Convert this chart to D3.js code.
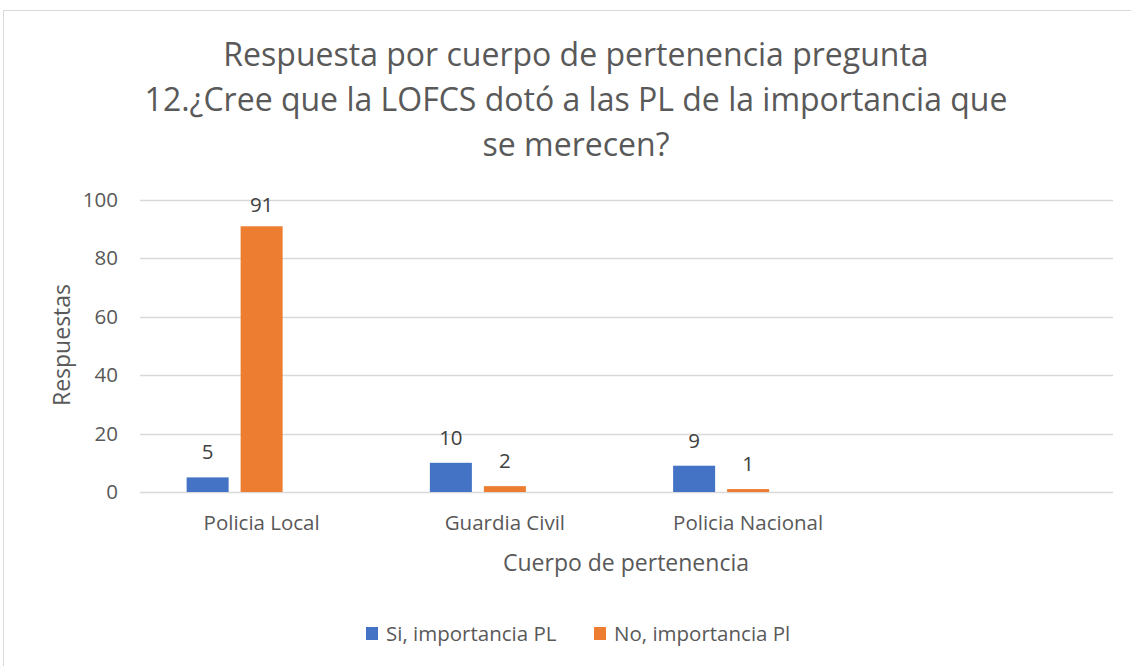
<!DOCTYPE html>
<html>
<head>
<meta charset="utf-8">
<script src="https://cdn.jsdelivr.net/npm/d3@7"></script>
<style>
  body { margin: 0; background: #fff; }
  svg text { font-family: "Open Sans", "Noto Sans", sans-serif; }
</style>
</head>
<body>
<div id="canvas"></div>
<script>
// data
var categories = ['Policia Local', 'Guardia Civil', 'Policia Nacional', ''];
var seriesNames = ['Si, importancia PL', 'No, importancia Pl'];
var siValues = [5, 10, 9, null];
var noValues = [91, 2, 1, null];
var yTicks = [0, 20, 40, 60, 80, 100];
var titleLines = ['Respuesta por cuerpo de pertenencia pregunta',
                  '12.¿Cree que la LOFCS dotó a las PL de la importancia que',
                  'se merecen?'];
var colors = ['#4472c4', '#ed7d31'];

var W = 1131, H = 666;
var m = {t: 200, r: 18, b: 174, l: 140};
var w = W - m.l - m.r, h = H - m.t - m.b;

var svg = d3.select('#canvas').append('svg')
    .attr('width', W).attr('height', H);

// chart border
svg.append('rect')
    .attr('x', 3.5).attr('y', 10.5)
    .attr('width', W + 10).attr('height', H + 10)
    .attr('fill', 'none').attr('stroke', '#d9d9d9');

// title
svg.append('g').selectAll('text')
    .data(titleLines).enter()
    .append('text')
    .attr('x', 576).attr('y', function(d, i){ return 66 + i * 45; })
    .attr('text-anchor', 'middle')
    .attr('font-size', 32)
    .attr('fill', '#595959')
    .text(function(d){ return d; });

var plot = svg.append('g')
    .attr('transform', 'translate(' + m.l + ',' + m.t + ')');

var y = d3.scaleLinear().domain([0, 100]).range([h, 0]);
var x0 = d3.scaleBand().domain(d3.range(categories.length)).range([0, w]);
// three slots per category (third one is empty in the original workbook)
var x1 = d3.scaleBand().domain([0, 1, 2]).range([0, 150]).paddingInner(12 / 54);
var groupOff = (x0.bandwidth() - 150) / 2;

// gridlines
plot.append('g').selectAll('line')
    .data(yTicks).enter()
    .append('line')
    .attr('x1', 0).attr('x2', w)
    .attr('y1', function(d){ return Math.round(y(d)) + 0.5; })
    .attr('y2', function(d){ return Math.round(y(d)) + 0.5; })
    .attr('stroke', '#d9d9d9').attr('stroke-width', 1.3);

// y tick labels
plot.append('g').selectAll('text')
    .data(yTicks).enter()
    .append('text')
    .attr('x', -22).attr('y', function(d){ return y(d) + 7; })
    .attr('text-anchor', 'end')
    .attr('font-size', 20.5)
    .attr('fill', '#595959')
    .text(function(d){ return d; });

// bars
var series = [siValues, noValues];
series.forEach(function(vals, s){
    var g = plot.append('g');
    var pts = vals.map(function(v, i){ return {v: v, i: i}; })
        .filter(function(d){ return d.v !== null; });
    g.selectAll('rect')
        .data(pts).enter()
        .append('rect')
        .attr('x', function(d){ return x0(d.i) + groupOff + x1(s); })
        .attr('width', x1.bandwidth())
        .attr('y', function(d){ return y(d.v); })
        .attr('height', function(d){ return y(0) - y(d.v); })
        .attr('fill', colors[s]);
    g.selectAll('text')
        .data(pts).enter()
        .append('text')
        .attr('x', function(d){ return x0(d.i) + groupOff + x1(s) + x1.bandwidth() / 2; })
        .attr('y', function(d){ return Math.max(y(d.v) - 18, 12); })
        .attr('text-anchor', 'middle')
        .attr('font-size', 20.5)
        .attr('fill', '#404040')
        .text(function(d){ return d.v; });
});

// category labels
plot.append('g').selectAll('text')
    .data(categories).enter()
    .append('text')
    .attr('x', function(d, i){ return x0(i) + x0.bandwidth() / 2; })
    .attr('y', h + 38)
    .attr('text-anchor', 'middle')
    .attr('font-size', 20.5)
    .attr('fill', '#595959')
    .text(function(d){ return d; });

// axis titles
svg.append('text')
    .attr('x', 626).attr('y', 571)
    .attr('text-anchor', 'middle')
    .attr('font-size', 23)
    .attr('fill', '#595959')
    .text('Cuerpo de pertenencia');

svg.append('text')
    .attr('transform', 'translate(70,345) rotate(-90)')
    .attr('text-anchor', 'middle')
    .attr('font-size', 23)
    .attr('fill', '#595959')
    .text('Respuestas');

// legend
var legendX = [366, 594];
var legend = svg.append('g').selectAll('g')
    .data(seriesNames).enter()
    .append('g')
    .attr('transform', function(d, i){ return 'translate(' + legendX[i] + ',627)'; });
legend.append('rect')
    .attr('width', 12).attr('height', 13)
    .attr('fill', function(d, i){ return colors[i]; });
legend.append('text')
    .attr('x', 20).attr('y', 14)
    .attr('font-size', 20.5)
    .attr('fill', '#595959')
    .text(function(d){ return d; });
</script>
</body>
</html>
